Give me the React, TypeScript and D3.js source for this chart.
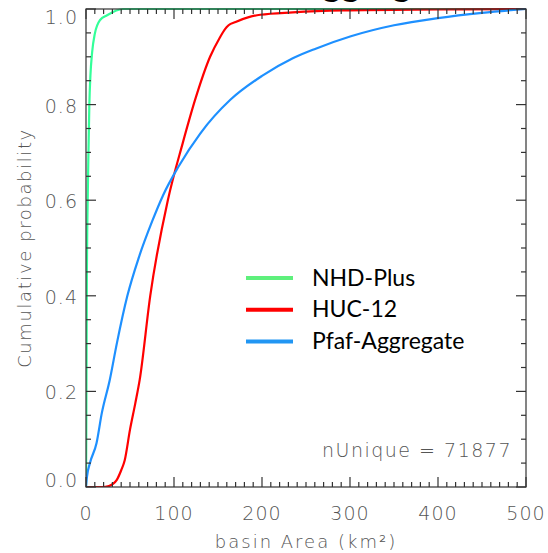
import React from 'react';
import * as d3 from 'd3';

const W = 548;
const H = 553;
const M = { left: 86, top: 9, right: 22, bottom: 66 };

// NHD-Plus CDF
const nhdArea = [0, 0.3, 1, 1.5, 2, 2.6, 3.8, 5, 7, 10, 16, 24, 42, 500];
const nhdProb = [0, 0.1, 0.45, 0.55, 0.61, 0.68, 0.8, 0.86, 0.91, 0.948, 0.977, 0.987, 1.0, 1.0];

// HUC-12 CDF
const hucArea = [0, 18, 26, 31, 35, 40, 44, 50, 56, 61, 73, 93, 110, 125, 141, 152, 158, 162, 170, 185, 198, 235, 292, 400, 500];
const hucProb = [0, 0, 0.002, 0.007, 0.015, 0.035, 0.056, 0.12, 0.175, 0.224, 0.4, 0.6, 0.72, 0.816, 0.9, 0.94, 0.958, 0.966, 0.973, 0.983, 0.988, 0.993, 0.997, 0.999, 1.0];

// Pfaf-Aggregate CDF
const pfafArea = [0, 1, 4.5, 12, 18, 27, 35, 47, 60, 75, 87.5, 105, 130, 164, 200, 235, 261, 301, 350, 400, 450, 500];
const pfafProb = [0, 0.02, 0.05, 0.092, 0.155, 0.224, 0.3, 0.4, 0.48, 0.555, 0.61, 0.67, 0.74, 0.81, 0.86, 0.897, 0.917, 0.943, 0.966, 0.981, 0.992, 1.0];

const seriesNames = ['NHD-Plus', 'HUC-12', 'Pfaf-Aggregate'];
const seriesColors = ['#33ff99', '#ff0000', '#1e90ff'];
const legendColors = ['#5ef07c', '#ff0000', '#2196f3'];

const xMajor = [0, 100, 200, 300, 400, 500];
const yMajor = [0, 0.2, 0.4, 0.6, 0.8, 1.0];
const xLabel = 'basin Area (km²)';
const yLabel = 'Cumulative probability';
const note = 'nUnique = 71877';
const title = 'Pfaf-Aggregate';

export default function App() {
  const x = d3.scaleLinear().domain([0, 500]).range([M.left, W - M.right]);
  const y = d3.scaleLinear().domain([0, 1]).range([H - M.bottom, M.top]);
  const x0 = x(0), x1 = x(500), y0 = y(0), y1 = y(1);

  const series = [
    nhdArea.map((a, i) => [a, nhdProb[i]] as [number, number]),
    hucArea.map((a, i) => [a, hucProb[i]] as [number, number]),
    pfafArea.map((a, i) => [a, pfafProb[i]] as [number, number]),
  ];
  const line = d3.line<[number, number]>().x(d => x(d[0])).y(d => y(d[1])).curve(d3.curveMonotoneX);

  const xMinor = d3.range(0, 501, 10).filter(v => v % 100 !== 0);
  const yMinor = d3.range(0, 21).map(i => i * 0.05).filter((v, i) => i % 4 !== 0);

  const axisColor = '#333';
  const labelFont = "'DejaVu Sans', sans-serif";
  const labelFill = '#555';
  const majL = 10, minL = 5;

  const ticks: JSX.Element[] = [];
  xMajor.concat(xMinor).forEach((v, i) => {
    const L = xMajor.includes(v) ? majL : minL;
    ticks.push(<line key={'xb' + i} x1={x(v)} x2={x(v)} y1={y0} y2={y0 - L} />);
    ticks.push(<line key={'xt' + i} x1={x(v)} x2={x(v)} y1={y1} y2={y1 + L} />);
  });
  yMajor.concat(yMinor).forEach((v, i) => {
    const L = yMajor.some(m => Math.abs(m - v) < 1e-9) ? majL : minL;
    ticks.push(<line key={'yl' + i} x1={x0} x2={x0 + L} y1={y(v)} y2={y(v)} />);
    ticks.push(<line key={'yr' + i} x1={x1} x2={x1 - L} y1={y(v)} y2={y(v)} />);
  });

  return (
    <svg width={W} height={H} style={{ position: 'absolute', left: 0, top: 0, background: '#fff' }}>
      <rect x={0} y={0} width={W} height={H} fill="#fff" />
      <text x={218} y={-4} fontFamily="Lato, sans-serif" fontWeight={700} fontSize={36} fill="#000">{title}</text>
      <defs>
        <clipPath id="plot">
          <rect x={x0} y={y1 - 2} width={x1 - x0} height={y0 - y1 + 2} />
        </clipPath>
      </defs>
      <g clipPath="url(#plot)">
        {series.map((s, i) => (
          <path key={i} d={line(s) || ''} fill="none" stroke={seriesColors[i]} strokeWidth={2.2} strokeLinejoin="round" />
        ))}
      </g>
      <g stroke={axisColor} strokeWidth={1.2}>
        {ticks}
        <rect x={x0} y={y1} width={x1 - x0} height={y0 - y1} fill="none" />
      </g>
      <g fontFamily={labelFont} fontWeight={200} fontSize={19} fill={labelFill}>
        {xMajor.map(v => (
          <text key={v} x={x(v)} y={520} textAnchor="middle" letterSpacing={1}>{v}</text>
        ))}
        {yMajor.map(v => (
          <text key={v} x={x0 - 8} y={Math.min(y0, Math.max(y1 + 15, y(v) + 8))} textAnchor="end" letterSpacing={1}>{v.toFixed(1)}</text>
        ))}
        <text x={(x0 + x1) / 2} y={548} fontSize={18} textAnchor="middle" letterSpacing={2}>{xLabel}</text>
        <text transform={`translate(31,${(y0 + y1) / 2}) rotate(-90)`} fontSize={18} textAnchor="middle" letterSpacing={1.6}>{yLabel}</text>
        <text x={512} y={457} textAnchor="end" letterSpacing={1.5}>{note}</text>
      </g>
      <g>
        {seriesNames.map((n, i) => (
          <g key={n}>
            <line x1={246} x2={293} y1={278 + i * 31.7} y2={278 + i * 31.7} stroke={legendColors[i]} strokeWidth={4} />
            <text x={312} y={286 + i * 31.3} fontFamily="Lato, sans-serif" fontSize={23} fill="#000">{n}</text>
          </g>
        ))}
      </g>
    </svg>
  );
}
